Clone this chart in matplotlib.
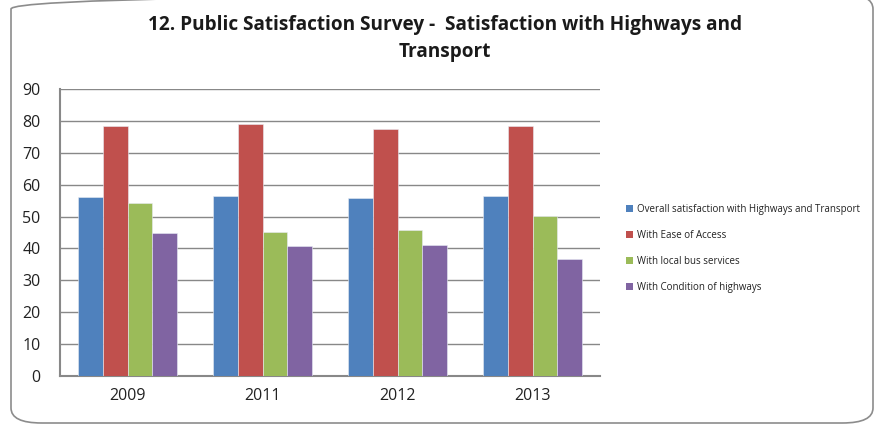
import matplotlib
matplotlib.use("Agg")
import matplotlib.pyplot as plt
from matplotlib.patches import FancyBboxPatch, Patch
import numpy as np

years = ["2009", "2011", "2012", "2013"]
series_names = [
    "Overall satisfaction with Highways and Transport",
    "With Ease of Access",
    "With local bus services",
    "With Condition of highways",
]
overall = [56.1, 56.4, 55.7, 56.5]
ease_access = [78.3, 79.1, 77.3, 78.5]
bus_services = [54.3, 45.3, 45.9, 50.2]
condition = [45.0, 40.8, 41.2, 36.7]
colors = ["#4F81BD", "#C0504D", "#9BBB59", "#8064A2"]
yticks = [0, 10, 20, 30, 40, 50, 60, 70, 80, 90]

plt.rcParams['font.family'] = ['Open Sans', 'DejaVu Sans']

W, H = 874, 428
fig = plt.figure(figsize=(W / 100, H / 100), dpi=100)

# rounded border
border = FancyBboxPatch((11 / W, 1 - 423 / H), (873 - 11) / W, (423 + 6) / H,
                        boxstyle="round,pad=0,rounding_size=0.035",
                        transform=fig.transFigure, fill=False,
                        edgecolor="#8c8c8c", linewidth=1.2)
fig.patches.append(border)

left, right, top, bottom = 60, 600, 89, 376
ax = fig.add_axes([left / W, 1 - bottom / H, (right - left) / W, (bottom - top) / H])

data = [overall, ease_access, bus_services, condition]
x = np.arange(len(years))
bw = 0.182
for i, (vals, c) in enumerate(zip(data, colors)):
    ax.bar(x + (i - 1.5) * bw, vals, width=bw, color=c, edgecolor="#e8ecf4",
           linewidth=0.4, zorder=3)

ax.set_xlim(-0.5, len(years) - 0.5)
ax.set_ylim(0, 90)
ax.set_yticks(yticks)
ax.set_xticks(x)
ax.set_xticklabels(years)
ax.tick_params(axis="both", length=0, labelsize=11.5, colors="#222222")
ax.tick_params(axis="y", pad=14)
ax.tick_params(axis="x", pad=9)
for lbl in ax.get_yticklabels():
    lbl.set_horizontalalignment("right")
ax.grid(axis="y", color="#888888", linewidth=1.0, zorder=0)
ax.set_axisbelow(True)
for s in ["top", "right"]:
    ax.spines[s].set_visible(False)
for s in ["left", "bottom"]:
    ax.spines[s].set_color("#888888")
    ax.spines[s].set_linewidth(1.5)

fig.text(445 / W, 1 - 25 / H,
         "12. Public Satisfaction Survey -  Satisfaction with Highways and",
         ha="center", va="center", fontsize=13.7, fontweight="bold", color="#1a1a1a")
fig.text(445 / W, 1 - 52 / H, "Transport",
         ha="center", va="center", fontsize=13.7, fontweight="bold", color="#1a1a1a")

handles = [Patch(facecolor=c, edgecolor="none") for c in colors]
fig.legend(handles, series_names, loc="upper left",
           bbox_to_anchor=(626 / W, 1 - 204 / H), frameon=False,
           fontsize=7.0, handlelength=0.75, handleheight=0.75,
           handletextpad=0.35, labelspacing=1.55, borderaxespad=0,
           borderpad=0, labelcolor="#222222")

fig.savefig("out.png", dpi=100)
